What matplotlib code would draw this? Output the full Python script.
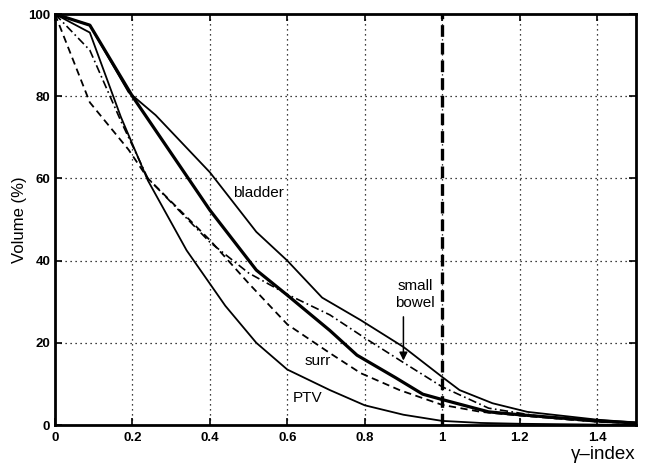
"""Curvas volumen-gamma (PTV, vejiga, intestino, alrededores)."""
import matplotlib
matplotlib.use("Agg")
import matplotlib.pyplot as plt

plt.rcParams["font.family"] = ["Liberation Sans", "DejaVu Sans"]

# datos
ptv_x = [0, 0.09, 0.17, 0.24, 0.34, 0.44, 0.52, 0.60, 0.71, 0.80, 0.90, 1.0, 1.1, 1.2, 1.5]
ptv_y = [100, 95.5, 75, 59.5, 42.5, 29, 20, 13.5, 8.5, 4.8, 2.5, 1.0, 0.5, 0.3, 0]

bladder_x = [0, 0.09, 0.19, 0.26, 0.40, 0.52, 0.60, 0.69, 0.79, 0.90, 1.0, 1.045, 1.13, 1.22, 1.4, 1.5]
bladder_y = [100, 97.3, 81, 75.4, 61.5, 47, 40, 31, 25.5, 19, 11.7, 8.5, 5.3, 3.2, 1.3, 0.6]

thick_x = [0, 0.09, 0.2, 0.4, 0.52, 0.6, 0.71, 0.78, 0.88, 0.95, 1.0, 1.12, 1.2, 1.4, 1.5]
thick_y = [100, 97.3, 80, 52.3, 37.7, 31.6, 23, 17, 11.5, 7.5, 6.2, 3.2, 2.5, 1.0, 0.5]

bowel_x = [0, 0.09, 0.17, 0.24, 0.4, 0.5, 0.6, 0.71, 0.8, 0.9, 1.0, 1.12, 1.28, 1.4, 1.5]
bowel_y = [100, 91.2, 74, 60, 44.5, 37, 31.8, 26.8, 21.2, 15.2, 9.3, 4.1, 1.7, 0.8, 0.5]

surr_x = [0, 0.09, 0.19, 0.24, 0.4, 0.5, 0.6, 0.71, 0.79, 0.89, 1.0, 1.1, 1.2, 1.4, 1.5]
surr_y = [100, 78.5, 67, 60, 45, 34.5, 24.5, 17.5, 12.6, 8.5, 4.9, 3.2, 2.3, 0.8, 0.4]

gamma_limit = 1.0
x_ticks = [0, 0.2, 0.4, 0.6, 0.8, 1, 1.2, 1.4]
x_ticklabels = ["0", "0.2", "0.4", "0.6", "0.8", "1", "1.2", "1.4"]
y_ticks = [0, 20, 40, 60, 80, 100]

fig = plt.figure(figsize=(6.5, 4.69), dpi=100)
ax = fig.add_axes([0.0846, 0.0938, 0.978 - 0.0846, 0.970 - 0.0938])

ax.plot(ptv_x, ptv_y, color="black", lw=1.3)
ax.plot(bladder_x, bladder_y, color="black", lw=1.3)
ax.plot(thick_x, thick_y, color="black", lw=2.3)
ax.plot(bowel_x, bowel_y, color="black", lw=1.2, linestyle=(0, (5, 2, 1, 2)))
ax.plot(surr_x, surr_y, color="black", lw=1.3, linestyle=(0, (4, 2.5)))
ax.axvline(gamma_limit, color="black", lw=2.4, linestyle=(0, (3.5, 1.8)))

ax.set_xlim(0, 1.5)
ax.set_ylim(0, 100)
ax.set_xticks(x_ticks)
ax.set_xticklabels(x_ticklabels)
ax.set_yticks(y_ticks)
ax.tick_params(direction="in", top=True, right=True, length=5, width=1.2,
               labelsize=9.5)
ax.tick_params(axis="x", pad=5)
for lab in ax.get_xticklabels() + ax.get_yticklabels():
    lab.set_fontweight("bold")
ax.grid(True, color="black", linestyle=(0, (1, 3)), lw=0.9)
for s in ax.spines.values():
    s.set_linewidth(2)

ax.set_ylabel("Volume (%)", fontsize=12, labelpad=1)
ax.text(1.0, -0.052, "\u03b3\u2013index", transform=ax.transAxes,
        ha="right", va="top", fontsize=13.5)

ax.text(0.525, 56.5, "bladder", fontsize=11, ha="center", va="center")
ax.text(0.93, 31.8, "small\nbowel", fontsize=11, ha="center", va="center",
        linespacing=1.3)
ax.annotate("", xy=(0.9, 15.0), xytext=(0.9, 27.0),
            arrowprops=dict(arrowstyle="-|>", color="black", lw=1.1,
                            mutation_scale=12))
ax.text(0.68, 15.5, "surr", fontsize=11, ha="center", va="center")
ax.text(0.653, 6.5, "PTV", fontsize=11, ha="center", va="center")

fig.savefig("out.png", dpi=100)
